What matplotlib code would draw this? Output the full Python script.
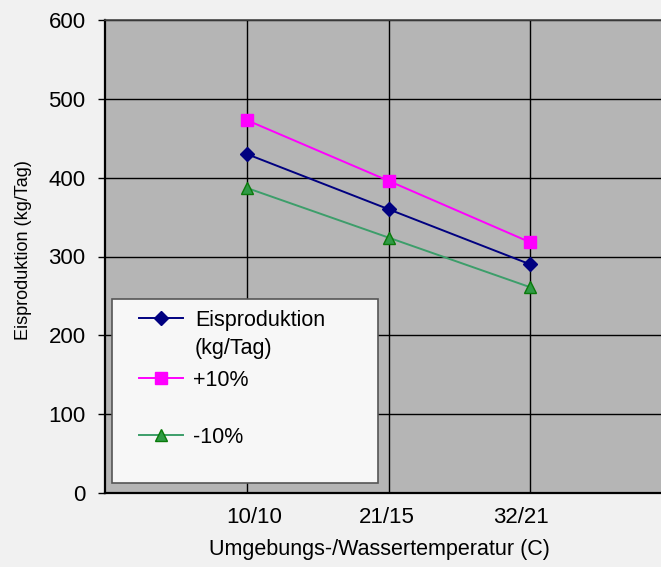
import matplotlib
matplotlib.use("Agg")
import matplotlib.pyplot as plt
from matplotlib.patches import Rectangle
from matplotlib.lines import Line2D
from matplotlib.transforms import ScaledTranslation

plt.rcParams['font.family'] = ['Liberation Sans', 'DejaVu Sans']

categories = ["10/10", "21/15", "32/21"]
base = [430, 360, 290]
plus10 = [473, 396, 318]
minus10 = [387, 324, 261]
series_names = ["Eisproduktion\n(kg/Tag)", "+10%", "-10%"]
yticks = [0, 100, 200, 300, 400, 500, 600]
xlabel = "Umgebungs-/Wassertemperatur (C)"
ylabel = "Eisproduktion (kg/Tag)"

W, H = 661, 567
fig = plt.figure(figsize=(W / 100, H / 100), dpi=100, facecolor='#f1f1f1')
L, R, T, B = 105, 672, 20, 493
ax = fig.add_axes([L / W, 1 - B / H, (R - L) / W, (B - T) / H])
ax.set_facecolor('#b5b5b5')

xs = list(range(1, len(categories) + 1))
styles = [
    dict(color='#000080', marker='D', ms=7.5, mfc='#000080', mec='#000080'),
    dict(color='#ff00ff', marker='s', ms=9, mfc='#ff00ff', mec='#ff00ff'),
    dict(color='#3c9e6a', marker='^', ms=9, mfc='#2f9a45', mec='#0a7a0a'),
]
for vals, st in zip([base, plus10, minus10], styles):
    ax.plot(xs, vals, lw=1.4, zorder=5, **st)

ax.set_xlim(0, 4)
ax.set_ylim(0, 600)
ax.set_xticks(xs)
ax.set_xticklabels(categories, fontsize=16)
ax.set_yticks(yticks)
ax.set_yticklabels([str(v) for v in yticks], fontsize=16)
ax.tick_params(axis='x', length=0, pad=10)
ax.tick_params(axis='y', length=5, width=1, pad=9, direction='out')
for lab, dx in zip(ax.get_xticklabels(), [7, -1.5, -9]):
    lab.set_transform(lab.get_transform() + ScaledTranslation(dx / 100, 0, fig.dpi_scale_trans))
ax.grid(True, color='black', lw=1, zorder=1)
ax.set_axisbelow(True)
for s in ['left', 'bottom']:
    ax.spines[s].set_linewidth(1.6)
    ax.spines[s].set_color('black')
ax.spines['top'].set_color('#444444')
ax.spines['top'].set_linewidth(1.2)
ax.spines['right'].set_visible(False)

def ac(px, py):
    return (px - L) / (R - L), (B - py) / (B - T)

# legend box
x0, y0 = ac(112, 483)
x1, y1 = ac(378, 299)
ax.add_patch(Rectangle((x0, y0), x1 - x0, y1 - y0, transform=ax.transAxes,
                       facecolor='#f7f7f7', edgecolor='#555555', lw=1.2, zorder=6))
ent_y = [318, 378, 435]
for name, st, py in zip(series_names, styles, ent_y):
    hx0, hy = ac(139, py)
    hx1, _ = ac(183, py)
    ax.add_line(Line2D([hx0, hx1], [hy, hy], transform=ax.transAxes, lw=1.4,
                       color=st['color'], zorder=7))
    ax.add_line(Line2D([(hx0 + hx1) / 2], [hy], transform=ax.transAxes, lw=0,
                       marker=st['marker'], ms=st['ms'], mfc=st['mfc'], mec=st['mec'], zorder=8))
    tx, ty = ac(195 if '\n' in name else 193, py - 8)
    ax.text(tx, ty, name, transform=ax.transAxes, fontsize=15.5, va='top', ha='left',
            linespacing=1.45, zorder=8)

fig.text(379 / W, 1 - 549 / H, xlabel, fontsize=15.5, ha='center', va='center')
fig.text(24 / W, 1 - 250 / H, ylabel, fontsize=13, ha='center', va='center', rotation=90)

fig.savefig('out.png', dpi=100, facecolor=fig.get_facecolor())
